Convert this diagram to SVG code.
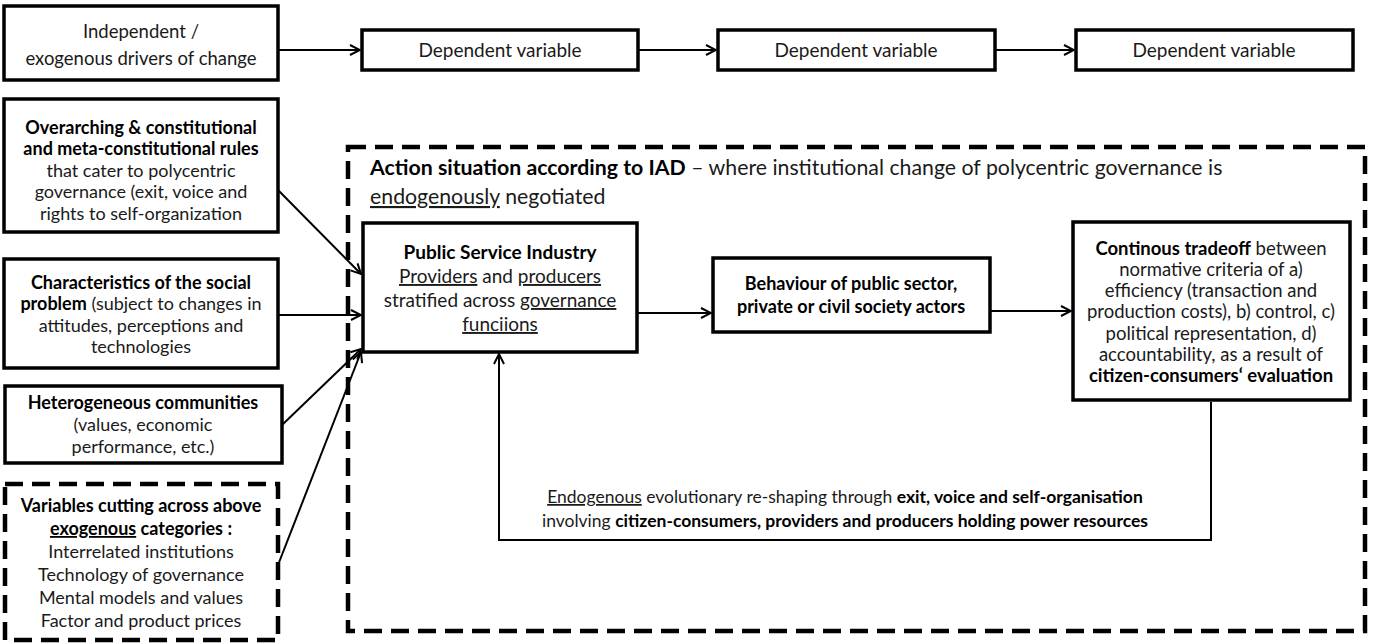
<svg xmlns="http://www.w3.org/2000/svg" width="1373" height="644" viewBox="0 0 1373 644">
<defs>
<marker id="arr" viewBox="0 0 12 12" refX="11" refY="6" markerWidth="12" markerHeight="12" markerUnits="userSpaceOnUse" orient="auto">
<path d="M1,1 L11,6 L1,11" fill="none" stroke="#000" stroke-width="2"/>
</marker>
<style>
.box{fill:#fff;stroke:#000;stroke-width:3.5}
.dash{fill:none;stroke:#000;stroke-width:4.5;stroke-dasharray:18 9}
.ln{fill:none;stroke:#000;stroke-width:2}
text{font-family:Lato,"Liberation Sans",sans-serif;fill:#1a1a1a;text-anchor:middle;font-size:18px}
.b{font-weight:bold;fill:#000}
.u{text-decoration:underline}
.dv{font-size:19px}
.ct{font-size:18.5px}
</style>
</defs>
<rect width="1373" height="644" fill="#fff"/>

<g id="action-situation">
<rect class="dash" x="348" y="147" width="1017" height="484"/>
<text x="370" y="175" style="font-size:21.3px;text-anchor:start"><tspan class="b">Action situation according to IAD</tspan> – where institutional change of polycentric governance is</text>
<text x="370" y="204" style="font-size:21.3px;text-anchor:start"><tspan class="u">endogenously</tspan> negotiated</text>
</g>

<g id="connectors">
<line class="ln" x1="278" y1="50" x2="360" y2="50" marker-end="url(#arr)"/>
<line class="ln" x1="638" y1="50" x2="716" y2="50" marker-end="url(#arr)"/>
<line class="ln" x1="995" y1="50" x2="1074" y2="50" marker-end="url(#arr)"/>
<line class="ln" x1="278" y1="190" x2="361" y2="274" marker-end="url(#arr)"/>
<line class="ln" x1="278" y1="315" x2="361" y2="315" marker-end="url(#arr)"/>
<line class="ln" x1="282" y1="425" x2="361" y2="349" marker-end="url(#arr)"/>
<line class="ln" x1="278" y1="565" x2="361" y2="352" marker-end="url(#arr)"/>
<line class="ln" x1="637" y1="313" x2="711" y2="313" marker-end="url(#arr)"/>
<line class="ln" x1="990" y1="311" x2="1071" y2="311" marker-end="url(#arr)"/>
<polyline class="ln" points="1211,402 1211,540 499,540 499,354" marker-end="url(#arr)"/>
</g>

<g id="independent">
<rect class="box" x="4" y="6" width="274" height="74"/>
<text x="141" y="38" style="font-size:18.5px">Independent /</text>
<text x="141" y="65" style="font-size:18.5px">exogenous drivers of change</text>
</g>
<g id="dep1">
<rect class="box" x="362" y="30" width="276" height="40"/>
<text class="dv" x="500" y="57">Dependent variable</text>
</g>
<g id="dep2">
<rect class="box" x="718" y="30" width="277" height="40"/>
<text class="dv" x="856" y="57">Dependent variable</text>
</g>
<g id="dep3">
<rect class="box" x="1076" y="30" width="277" height="40"/>
<text class="dv" x="1214" y="57">Dependent variable</text>
</g>

<g id="rules">
<rect class="box" x="4" y="99" width="274" height="133"/>
<text class="b" x="141" y="134">Overarching  &amp; constitutional</text>
<text class="b" x="141" y="155">and meta-constitutional  rules</text>
<text x="141" y="177">that cater to polycentric</text>
<text x="141" y="198">governance (exit, voice and</text>
<text x="141" y="220">rights to self-organization</text>
</g>

<g id="problem">
<rect class="box" x="4" y="259" width="274" height="109"/>
<text class="b" x="141" y="289">Characteristics of the social</text>
<text x="141" y="310"><tspan class="b">problem</tspan> (subject to changes in</text>
<text x="141" y="332">attitudes, perceptions and</text>
<text x="141" y="353">technologies</text>
</g>

<g id="communities">
<rect class="box" x="5" y="386" width="277" height="77"/>
<text class="b" x="143" y="409">Heterogeneous communities</text>
<text x="143" y="431">(values, economic</text>
<text x="143" y="453">performance, etc.)</text>
</g>

<g id="crosscutting">
<rect class="dash" x="5" y="484" width="273" height="156"/>
<text class="b" x="141" y="512">Variables cutting across above</text>
<text class="b" x="141" y="535"><tspan class="u">exogenous</tspan> categories :</text>
<text x="141" y="558">Interrelated institutions</text>
<text x="141" y="581">Technology of governance</text>
<text x="141" y="604">Mental models and values</text>
<text x="141" y="627">Factor and product prices</text>
</g>

<g id="psi">
<rect class="box" x="363" y="223" width="274" height="129"/>
<text class="b" x="500" y="259" style="font-size:19px">Public Service Industry</text>
<text x="500" y="283" style="font-size:19px"><tspan class="u">Providers</tspan> and <tspan class="u">producers</tspan></text>
<text x="500" y="307" style="font-size:19px">stratified across <tspan class="u">governance</tspan></text>
<text class="u" x="500" y="331" style="font-size:19px">funciions</text>
</g>

<g id="behaviour">
<rect class="box" x="713" y="258" width="277" height="74"/>
<text class="b" x="851" y="290">Behaviour of public sector,</text>
<text class="b" x="851" y="313">private or civil society actors</text>
</g>

<g id="tradeoff">
<rect class="box" x="1073" y="222" width="277" height="178"/>
<text class="ct" x="1211" y="255"><tspan class="b">Continous tradeoff</tspan> between</text>
<text class="ct" x="1211" y="276">normative criteria of a)</text>
<text class="ct" x="1211" y="297">efficiency (transaction and</text>
<text class="ct" x="1211" y="318">production costs), b) control, c)</text>
<text class="ct" x="1211" y="340">political representation, d)</text>
<text class="ct" x="1211" y="361">accountability, as a result of</text>
<text class="ct b" x="1211" y="382">citizen-consumers‘ evaluation</text>
</g>

<g id="feedback-label">
<text x="845" y="503" style="font-size:17.5px"><tspan class="u">Endogenous</tspan> evolutionary re-shaping through <tspan class="b">exit, voice and self-organisation</tspan></text>
<text x="845" y="527" style="font-size:17.5px">involving <tspan class="b">citizen-consumers, providers and producers holding power resources</tspan></text>
</g>
</svg>
